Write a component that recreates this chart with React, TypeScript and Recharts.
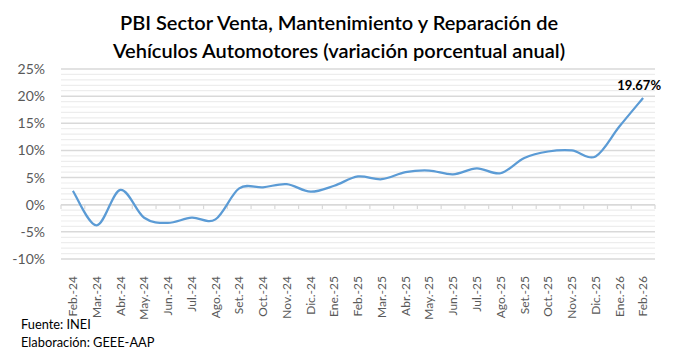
import React from "react";
import {
  LineChart,
  Line,
  XAxis,
  YAxis,
  CartesianGrid,
  ReferenceLine,
  LabelList,
} from "recharts";

const months = [
  "Feb.-24", "Mar.-24", "Abr.-24", "May.-24", "Jun.-24", "Jul.-24", "Ago.-24",
  "Set.-24", "Oct.-24", "Nov.-24", "Dic.-24", "Ene.-25", "Feb.-25", "Mar.-25",
  "Abr.-25", "May.-25", "Jun.-25", "Jul.-25", "Ago.-25", "Set.-25", "Oct.-25",
  "Nov.-25", "Dic.-25", "Ene.-26", "Feb.-26",
];

const variacion = [
  2.56, -3.8, 2.74, -2.4, -3.35, -2.4, -2.7, 3.0, 3.2, 3.8, 2.4, 3.5, 5.2,
  4.7, 6.0, 6.3, 5.6, 6.7, 5.8, 8.6, 9.8, 10.0, 8.9, 14.4, 19.67,
];

const yTicks = [-10, -5, 0, 5, 10, 15, 20, 25];
const yMinor = [-9, -8, -7, -6, -4, -3, -2, -1, 1, 2, 3, 4, 6, 7, 8, 9, 11, 12, 13, 14, 16, 17, 18, 19, 21, 22, 23, 24];

const data = months.map((m, i) => ({ idx: i, mes: m, valor: variacion[i] }));
const xTicks = months.map((_, i) => i);
const boundaries = [...months.map((_, i) => i - 0.5), months.length - 0.5];

const FONT = "Lato, 'Open Sans', sans-serif";
const lastIdx = variacion.length - 1;

// Excel-style smoothed line (Catmull-Rom through the points)
const smoothCurve = (context: any) => {
  let pts: number[][] = [];
  return {
    areaStart() {},
    areaEnd() {},
    lineStart() {
      pts = [];
    },
    point(x: number, y: number) {
      pts.push([+x, +y]);
    },
    lineEnd() {
      if (!pts.length) return;
      context.moveTo(pts[0][0], pts[0][1]);
      for (let i = 0; i < pts.length - 1; i++) {
        const p0 = pts[i - 1] || pts[i];
        const p1 = pts[i];
        const p2 = pts[i + 1];
        const p3 = pts[i + 2] || pts[i + 1];
        context.bezierCurveTo(
          p1[0] + (p2[0] - p0[0]) / 6,
          p1[1] + (p2[1] - p0[1]) / 6,
          p2[0] - (p3[0] - p1[0]) / 6,
          p2[1] - (p3[1] - p1[1]) / 6,
          p2[0],
          p2[1]
        );
      }
    },
  };
};

const MonthTick = (props: any) => {
  const { x, y, payload } = props;
  return (
    <text
      x={0}
      y={0}
      transform={`translate(${x}, ${y + 9}) rotate(-90)`}
      textAnchor="end"
      dy="0.35em"
      fill="#595959"
      fontSize={12}
      fontFamily={FONT}
    >
      {months[payload.value]}
    </text>
  );
};

const LastLabel = (props: any) => {
  const { x, y, index, value } = props;
  if (index !== lastIdx) return null;
  return (
    <text
      x={x - 4}
      y={y - 8}
      textAnchor="middle"
      fill="#000"
      fontSize={13}
      fontWeight={700}
      fontFamily={FONT}
    >
      {value.toFixed(2)}%
    </text>
  );
};

export default function App() {
  return (
    <div style={{ position: "relative", width: 678, height: 361, background: "#fff", fontFamily: FONT }}>
      <style>{`body{margin:0}`}</style>
      <div
        style={{
          position: "absolute",
          top: 8,
          left: 0,
          width: 678,
          textAlign: "center",
          fontSize: 20,
          fontWeight: 600,
          lineHeight: "28px",
          color: "#000",
        }}
      >
        PBI Sector Venta, Mantenimiento y Reparación de
        <br />
        Vehículos Automotores (variación porcentual anual)
      </div>
      <div style={{ position: "absolute", left: 0, top: 0 }}>
        <LineChart
          width={678}
          height={361}
          data={data}
          margin={{ top: 69, right: 23, left: 0, bottom: 0 }}
        >
          {yMinor.map((v) => (
            <ReferenceLine key={`m${v}`} y={v} stroke="#ededed" strokeWidth={1.2} />
          ))}
          <CartesianGrid vertical={false} stroke="#d9d9d9" strokeWidth={1.5} />
          <XAxis
            dataKey="idx"
            type="number"
            domain={[-0.5, months.length - 0.5]}
            ticks={xTicks}
            interval={0}
            height={102}
            axisLine={false}
            tickLine={false}
            tick={<MonthTick />}
          />
          <YAxis
            domain={[-10, 25]}
            ticks={yTicks}
            width={61}
            axisLine={false}
            tickLine={false}
            tickSize={0}
            tickMargin={16}
            tickFormatter={(v: number) => `${v}%`}
            tick={{ fill: "#595959", fontSize: 14, fontFamily: FONT }}
          />
          <ReferenceLine y={0} stroke="#d9d9d9" strokeWidth={1.5} />
          {boundaries.map((b) => (
            <ReferenceLine
              key={`b${b}`}
              segment={[{ x: b, y: 0 }, { x: b, y: -0.8 }]}
              stroke="#d9d9d9"
              strokeWidth={1.2}
            />
          ))}
          <Line
            type={smoothCurve as any}
            dataKey="valor"
            stroke="#5b9bd5"
            strokeWidth={2.25}
            dot={false}
            isAnimationActive={false}
          >
            <LabelList dataKey="valor" content={<LastLabel />} />
          </Line>
        </LineChart>
      </div>
      <div style={{ position: "absolute", left: 21, top: 315, fontSize: 12.8, color: "#000", lineHeight: "18px" }}>
        Fuente: INEI
        <br />
        Elaboración: GEEE-AAP
      </div>
    </div>
  );
}
